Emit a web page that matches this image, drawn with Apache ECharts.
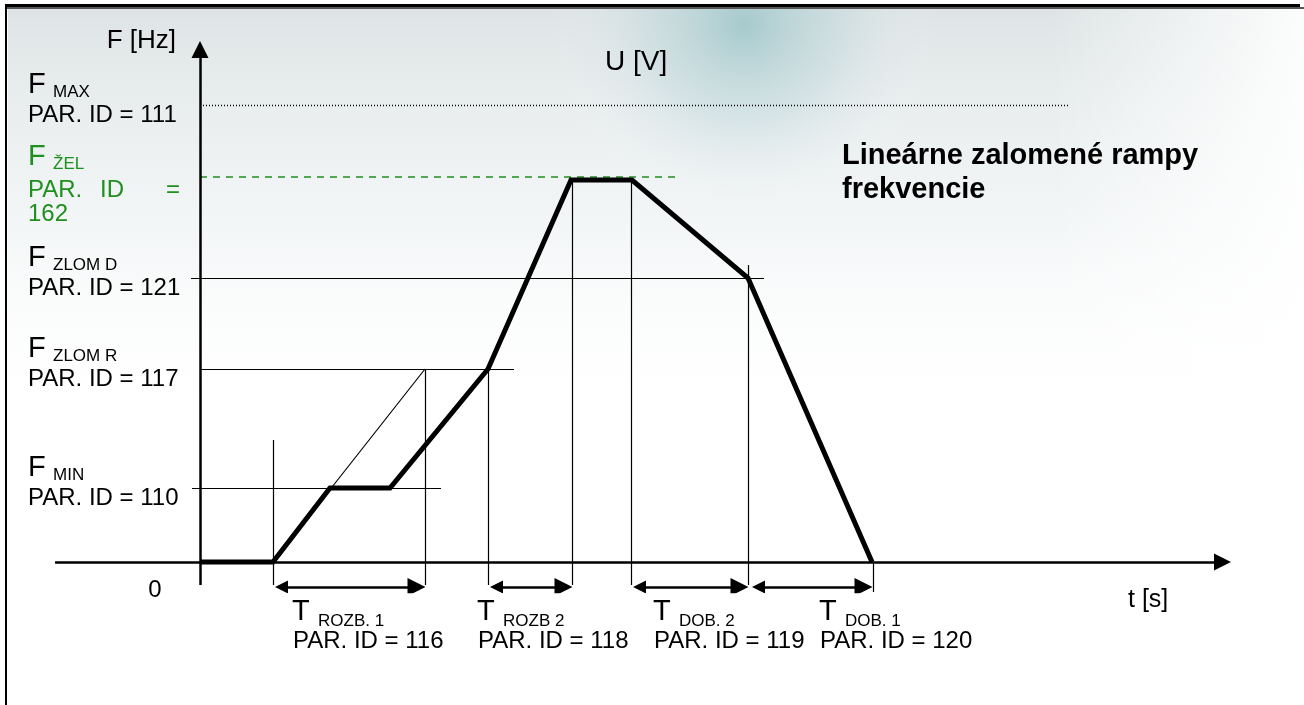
<!doctype html>
<html lang="sk">
<head>
    <meta charset="utf-8">
    <title>Lineárne zalomené rampy frekvencie</title>
    <script src="https://cdn.jsdelivr.net/npm/echarts@6/dist/echarts.min.js"></script>
    <style type="text/css">
        html, body { margin: 0; padding: 0; background: #fff; }
        #chart { width: 1304px; height: 705px; }
    </style>
</head>
<body>
    <div id="chart"></div>
    <script>
        // thick frequency curve (t units, F units)
        const curveT = [0, 7.3, 13.0, 19.0, 28.8, 37.1, 43.2, 54.8, 67.2];
        const curveF = [0, 0, 7.4, 7.4, 19.3, 38.2, 38.2, 28.4, 0];

        // frequency levels on the left
        const levelNames = ['MAX', 'ŽEL', 'ZLOM D', 'ZLOM R', 'MIN'];
        const levelParIds = ['111', '162', '121', '117', '110'];
        const levelValues = [45.7, 38.5, 28.4, 19.3, 7.4];
        const levelStart = [0.3, 0, -0.9, 0, -0.8];
        const levelEnd = [87.0, 48.1, 56.4, 31.4, 24.1];

        // vertical guide lines
        const guideT = [7.3, 22.5, 28.8, 37.2, 43.1, 54.8, 67.3];
        const guideTop = [12.2, 19.3, 19.3, 38.2, 38.2, 29.7, 0];
        const guideBottom = [-2.3, -2.3, -2.3, -2.3, -2.3, -2.3, -3.0];

        // thin linear ramp without the F MIN step
        const rampT = [7.3, 22.5];
        const rampF = [0, 19.3];

        // time spans under the axis
        const spanNames = ['ROZB. 1', 'ROZB 2', 'DOB. 2', 'DOB. 1'];
        const spanParIds = ['116', '118', '119', '120'];
        const spanStart = [7.3, 28.8, 43.1, 55.0];
        const spanEnd = [22.5, 37.2, 54.8, 67.2];
        const spanLabelT = [9.2, 27.7, 45.3, 61.9];
        const spanLevel = -2.5;

        // axis extents
        const axisT = [-14.5, 103.1];
        const axisF = [-2.3, 52.1];

        const GREEN = '#1f8f1f';
        const FONT = '"Liberation Sans", Arial, sans-serif';
        const ARROW = 0.85; // half arrow head length in t/F units

        let chart = echarts.init(document.getElementById('chart'));

        let guides = [];
        for (let i = 0; i < levelValues.length; ++i) {
            let style = { color: '#000', width: 1.2 };
            if (levelNames[i] === 'MAX') style = { color: '#000', width: 1.3, type: [1, 2] };
            if (levelNames[i] === 'ŽEL') style = { color: GREEN, width: 1.6, type: [7, 6] };
            guides.push({ coords: [[levelStart[i], levelValues[i]], [levelEnd[i], levelValues[i]]], lineStyle: style });
        }
        for (let i = 0; i < guideT.length; ++i) {
            guides.push({ coords: [[guideT[i], guideBottom[i]], [guideT[i], guideTop[i]]] });
        }
        guides.push({ coords: [[rampT[0], rampF[0]], [rampT[1], rampF[1]]] });

        let spans = [];
        for (let i = 0; i < spanStart.length; ++i) {
            spans.push({ coords: [[spanStart[i] + ARROW, spanLevel], [spanEnd[i] - ARROW, spanLevel]] });
        }

        let option = {
            animation: false,
            backgroundColor: '#fff',
            grid: { left: 40, right: 64, top: 32, bottom: 113 },
            xAxis: { type: 'value', min: -16, max: 104, show: false },
            yAxis: { type: 'value', min: -3, max: 53, show: false },
            series: [
                {
                    type: 'lines',
                    coordinateSystem: 'cartesian2d',
                    symbol: 'none',
                    lineStyle: { color: '#000', width: 1.2, opacity: 1 },
                    data: guides,
                    z: 2
                },
                {
                    type: 'lines',
                    coordinateSystem: 'cartesian2d',
                    symbol: ['none', 'triangle'],
                    symbolSize: [14, 17],
                    lineStyle: { color: '#000', width: 2.5, opacity: 1 },
                    data: [
                        { coords: [[axisT[0], 0], [axisT[1] - ARROW, 0]] },
                        { coords: [[0, axisF[0]], [0, axisF[1] - ARROW]] }
                    ],
                    z: 3
                },
                {
                    type: 'lines',
                    coordinateSystem: 'cartesian2d',
                    symbol: ['triangle', 'triangle'],
                    symbolSize: [13, 18],
                    lineStyle: { color: '#000', width: 2.5, opacity: 1 },
                    data: spans,
                    z: 3
                },
                {
                    type: 'line',
                    data: curveT.map(function (t, i) { return [t, curveF[i]]; }),
                    showSymbol: false,
                    symbol: 'none',
                    lineStyle: { color: '#000', width: 5, join: 'miter' },
                    z: 5
                }
            ]
        };
        chart.setOption(option);

        function txt(x, y, s, size, extra) {
            extra = extra || {};
            return {
                type: 'text',
                x: x,
                y: y,
                z: 100,
                style: {
                    text: s,
                    fill: extra.color || '#000',
                    font: (extra.bold ? 'bold ' : '') + size + 'px ' + FONT,
                    textAlign: extra.align || 'left',
                    align: extra.align || 'left',
                    textVerticalAlign: 'middle',
                    verticalAlign: 'middle'
                }
            };
        }

        let elements = [
            // faded circuit board backdrop
            {
                type: 'rect', z: -10, silent: true,
                shape: { x: 8, y: 9, width: 1296, height: 420 },
                style: {
                    fill: new echarts.graphic.LinearGradient(0, 0, 0, 1, [
                        { offset: 0, color: 'rgba(200,210,212,0.6)' },
                        { offset: 0.55, color: 'rgba(225,232,234,0.35)' },
                        { offset: 1, color: 'rgba(255,255,255,0)' }
                    ])
                }
            },
            {
                type: 'rect', z: -9, silent: true,
                shape: { x: 450, y: 9, width: 700, height: 330 },
                style: {
                    fill: new echarts.graphic.RadialGradient(0.42, 0.05, 0.6, [
                        { offset: 0, color: 'rgba(110,175,180,0.5)' },
                        { offset: 0.5, color: 'rgba(170,205,210,0.28)' },
                        { offset: 1, color: 'rgba(255,255,255,0)' }
                    ])
                }
            },
            {
                type: 'rect', z: -8, silent: true,
                shape: { x: 1050, y: 9, width: 254, height: 420 },
                style: {
                    fill: new echarts.graphic.LinearGradient(0, 0, 1, 0, [
                        { offset: 0, color: 'rgba(255,255,255,0)' },
                        { offset: 1, color: 'rgba(255,255,255,0.9)' }
                    ])
                }
            },
            // frame
            { type: 'rect', z: 50, shape: { x: 5, y: 4, width: 1295, height: 3 }, style: { fill: '#000' } },
            { type: 'rect', z: 50, shape: { x: 5, y: 7, width: 1299, height: 2 }, style: { fill: '#555' } },
            { type: 'rect', z: 50, shape: { x: 5, y: 7, width: 2, height: 698 }, style: { fill: '#000' } },
            // axis names and title
            txt(176, 41, 'F [Hz]', 26, { align: 'right' }),
            txt(605, 62, 'U [V]', 28),
            txt(1128, 600, 't [s]', 25),
            txt(842, 156, 'Lineárne zalomené rampy', 29, { bold: true }),
            txt(842, 190, 'frekvencie', 29, { bold: true })
        ];

        let origin = chart.convertToPixel({ gridIndex: 0 }, [0, 0]);
        elements.push(txt(origin[0] - 45, origin[1] + 28, '0', 24, { align: 'center' }));

        for (let i = 0; i < levelValues.length; ++i) {
            let y = chart.convertToPixel({ gridIndex: 0 }, [0, levelValues[i]])[1];
            let color = levelNames[i] === 'ŽEL' ? GREEN : '#000';
            elements.push(txt(28, y - 20, 'F', 29, { color: color }));
            elements.push(txt(53, y - 13, levelNames[i], 17, { color: color }));
            if (levelNames[i] === 'ŽEL') {
                elements.push(txt(28, y + 13, 'PAR.', 24, { color: color }));
                elements.push(txt(112, y + 13, 'ID', 24, { color: color, align: 'center' }));
                elements.push(txt(180, y + 13, '=', 24, { color: color, align: 'right' }));
                elements.push(txt(28, y + 37, levelParIds[i], 24, { color: color }));
            } else {
                elements.push(txt(28, y + 10, 'PAR. ID = ' + levelParIds[i], 24, { color: color }));
            }
        }

        for (let i = 0; i < spanNames.length; ++i) {
            let x = chart.convertToPixel({ gridIndex: 0 }, [spanLabelT[i], 0])[0];
            elements.push(txt(x, origin[1] + 50, 'T', 29));
            elements.push(txt(x + 26, origin[1] + 59, spanNames[i], 17));
            elements.push(txt(x + 1, origin[1] + 79.5, 'PAR. ID = ' + spanParIds[i], 24));
        }

        chart.setOption({ graphic: { elements: elements } });
    </script>
</body>
</html>
